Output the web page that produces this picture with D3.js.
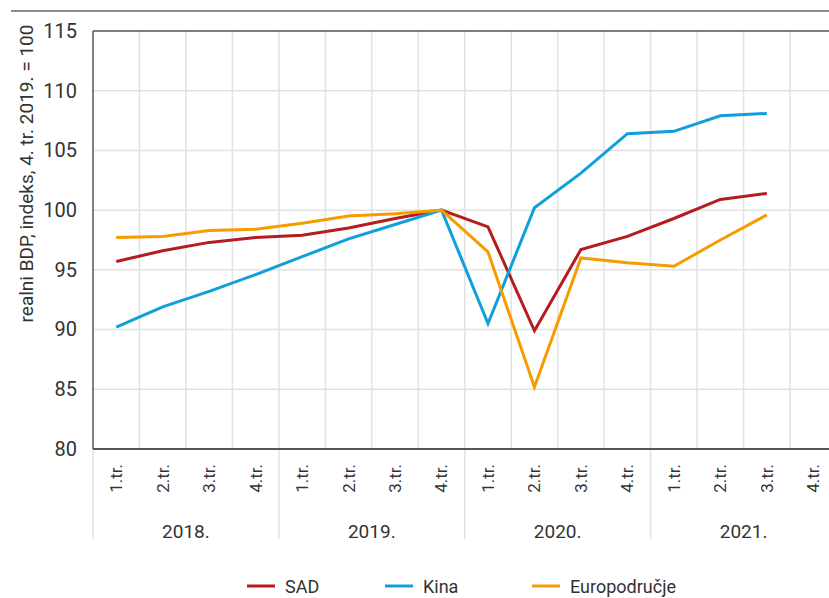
<!DOCTYPE html>
<html><head><meta charset="utf-8">
<script src="https://cdn.jsdelivr.net/npm/d3@7"></script>
<style>body{margin:0;background:#fff}svg{display:block}text{font-family:Roboto,"Liberation Sans",sans-serif;font-weight:400;fill:#333}</style>
</head><body><svg id="c" width="829" height="598"></svg>
<script>
const years = ["2018.","2019.","2020.","2021."];
const quarterLabels = ["1.tr.","2.tr.","3.tr.","4.tr."];
const yTicks = [80,85,90,95,100,105,110,115];
const seriesNames = ["SAD","Kina","Europodručje"];
const sad = [95.7,96.6,97.3,97.7,97.9,98.5,99.3,100,98.6,89.9,96.7,97.8,99.3,100.9,101.4,null];
const kina = [90.2,91.9,93.2,94.6,96.1,97.6,98.8,100,90.5,100.2,103.1,106.4,106.6,107.9,108.1,null];
const euro = [97.7,97.8,98.3,98.4,98.9,99.5,99.7,100,96.5,85.2,96.0,95.6,95.3,97.5,99.6,null];
const colors = ["#b51c20","#0fa0da","#f59c00"];

const svg = d3.select("#c");
const L=93, T=31, B=449, bw=46.47;
const cats = [];
years.forEach(y=>quarterLabels.forEach(q=>cats.push(y+q)));
const x = d3.scaleBand().domain(cats).range([L, L+bw*cats.length]);
const y = d3.scaleLinear().domain([80,115]).range([B,T]);

// top rule
svg.append("line").attr("x1",11).attr("x2",829).attr("y1",11).attr("y2",11).attr("stroke","#8c8c8c").attr("stroke-width",2);

// grid
const g = svg.append("g");
yTicks.filter(v=>v>80&&v<115).forEach(v=>{
  g.append("line").attr("x1",L).attr("x2",x.range()[1]).attr("y1",y(v)).attr("y2",y(v)).attr("stroke","#e2e2e2").attr("stroke-width",1.5);
});
cats.forEach((c,i)=>{
  if(i===0) return;
  const xx = x(c);
  const yearStart = i%4===0;
  g.append("line").attr("x1",xx).attr("x2",xx).attr("y1",T).attr("y2",yearStart?539:B).attr("stroke","#e2e2e2").attr("stroke-width",1.5);
});
g.append("line").attr("x1",x.range()[1]).attr("x2",x.range()[1]).attr("y1",T).attr("y2",539).attr("stroke","#e2e2e2").attr("stroke-width",1.5);
g.append("line").attr("x1",L).attr("x2",L).attr("y1",B).attr("y2",539).attr("stroke","#e2e2e2").attr("stroke-width",1.5);

// frame
svg.append("line").attr("x1",L).attr("x2",829).attr("y1",T).attr("y2",T).attr("stroke","#555").attr("stroke-width",1.5);
svg.append("line").attr("x1",L).attr("x2",L).attr("y1",T).attr("y2",B).attr("stroke","#555").attr("stroke-width",1.5);
svg.append("line").attr("x1",L).attr("x2",829).attr("y1",B).attr("y2",B).attr("stroke","#555").attr("stroke-width",2);

// y axis
const ya = svg.append("g").attr("transform",`translate(${L},0)`)
  .call(d3.axisLeft(y).tickValues(yTicks).tickSize(0).tickPadding(16));
ya.select(".domain").remove();
ya.attr("font-family",null).attr("font-size",null);
ya.selectAll("text").style("font-size","20px").style("fill","#333");

// x quarter labels
const xa = svg.append("g").attr("transform",`translate(0,${B})`)
  .call(d3.axisBottom(x).tickSize(0).tickFormat(d=>d.slice(5)));
xa.select(".domain").remove();
xa.attr("font-family",null).attr("font-size",null);
xa.selectAll("text").attr("transform","rotate(-90)").attr("text-anchor","end")
  .attr("x",-15).attr("y",0).attr("dy","0.35em").style("font-size","17px").style("fill","#333");

// year labels
years.forEach((yr,i)=>{
  const x0 = x(yr+quarterLabels[0]), x1 = x(yr+quarterLabels[3])+x.bandwidth();
  svg.append("text").attr("x",(x0+x1)/2).attr("y",538).attr("text-anchor","middle").style("font-size","19px").text(yr);
});

// y title
svg.append("text").attr("transform","translate(33,173.5) rotate(-90)").attr("text-anchor","middle")
  .style("font-size","19px").text("realni BDP, indeks, 4. tr. 2019. = 100");

// lines
const line = d3.line().defined(d=>d!=null).x((d,i)=>x(cats[i])+x.bandwidth()/2).y(d=>y(d));
[sad,kina,euro].forEach((s,k)=>{
  svg.append("path").datum(s).attr("d",line).attr("fill","none").attr("stroke",colors[k]).attr("stroke-width",3).attr("stroke-linejoin","miter");
});

// legend
const legX=[247,385,532];
seriesNames.forEach((n,k)=>{
  svg.append("line").attr("x1",legX[k]).attr("x2",legX[k]+28).attr("y1",586).attr("y2",586).attr("stroke",colors[k]).attr("stroke-width",3);
  svg.append("text").attr("x",legX[k]+38).attr("y",593).style("font-size","18px").text(n);
});
</script></body></html>
